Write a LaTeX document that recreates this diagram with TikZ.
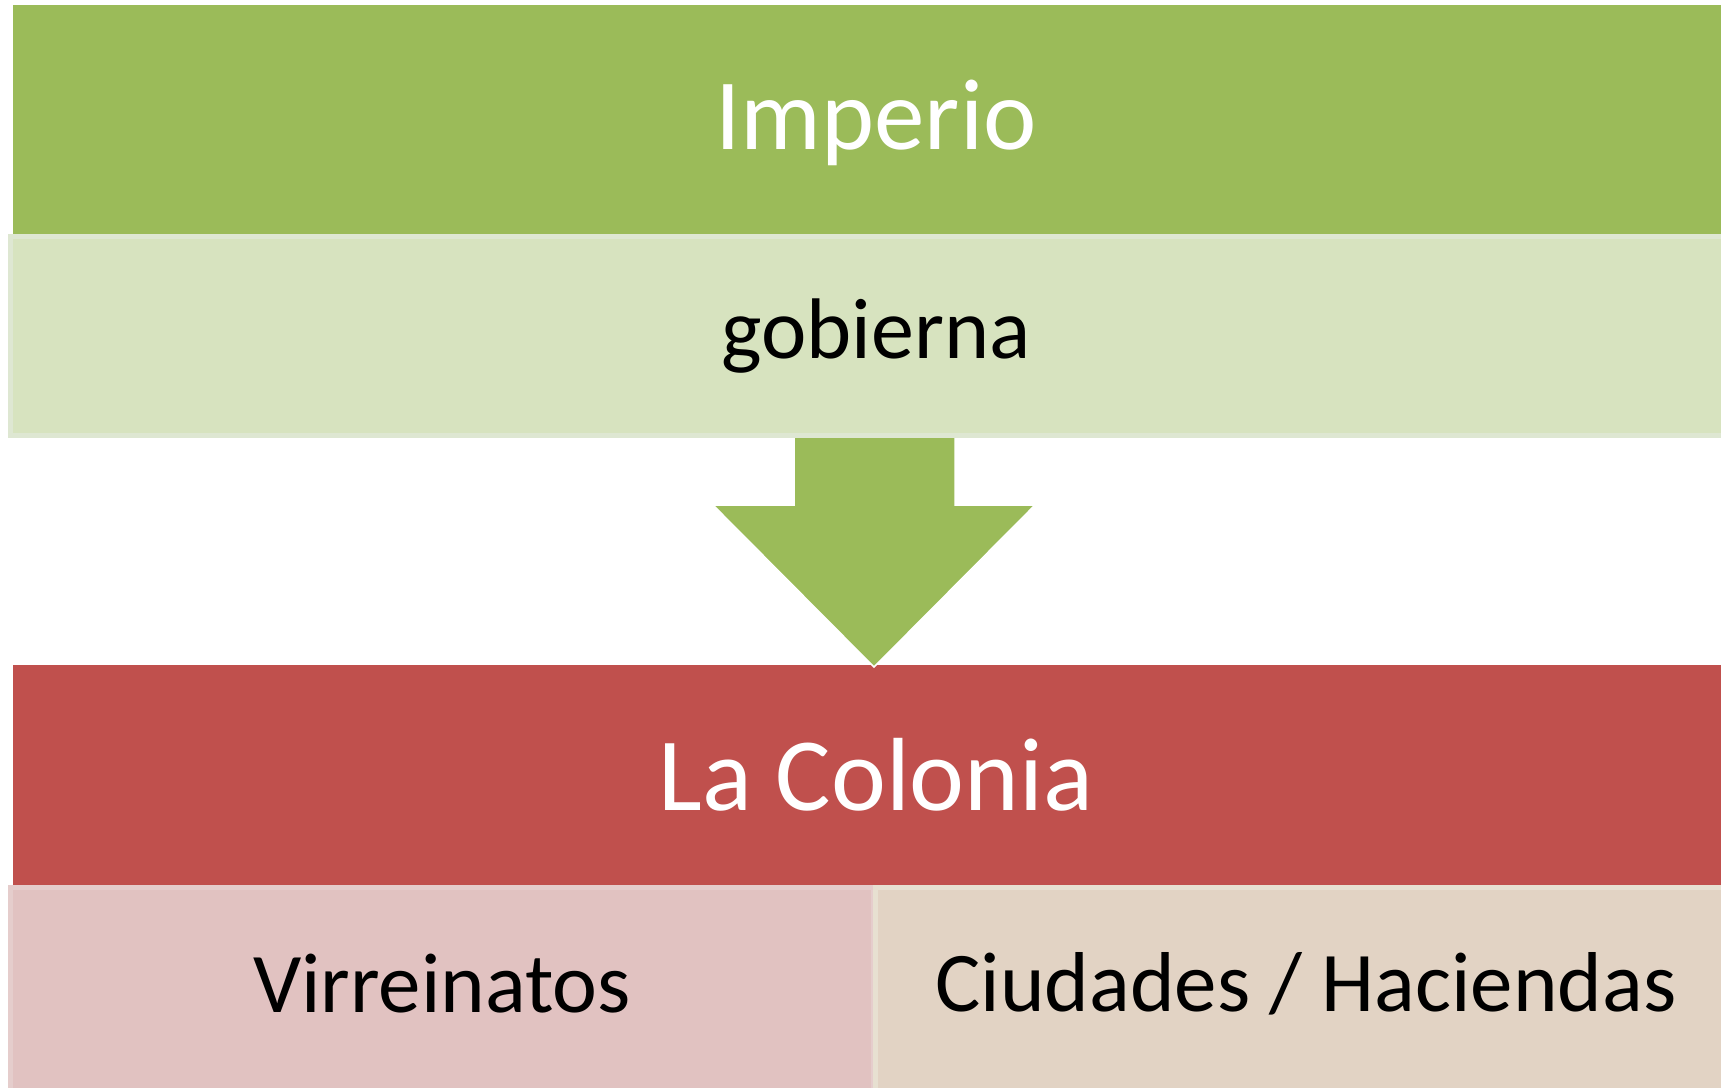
\documentclass[tikz,border=0pt]{standalone}
\usepackage{fontspec}
\setmainfont{Carlito}
\definecolor{gA}{HTML}{9BBB59}
\definecolor{gL}{HTML}{D7E3BF}
\definecolor{gB}{HTML}{DEE7D2}
\definecolor{rA}{HTML}{C0504D}
\definecolor{pL}{HTML}{E1C2C1}
\definecolor{pB}{HTML}{E5CDCC}
\definecolor{bL}{HTML}{E2D3C4}
\definecolor{bB}{HTML}{E7E0D1}
\tikzset{
  box/.style={rectangle, inner sep=0pt, outer sep=0pt, anchor=north west},
  head/.style={box, text=white, font=\fontsize{100}{110}\selectfont},
  sub/.style={box, text=black, line width=5pt},
}
\begin{document}
\begin{tikzpicture}[x=1pt,y=-1pt]
\useasboundingbox (0,0) rectangle (1721,1087);
\clip (0,0) rectangle (1721,1087);
\fill[white] (0,0) rectangle (1721,1087);
% top green
\node[head, fill=gA, minimum width=1726pt, minimum height=229pt] (imp) at (13,5) {};
\node[text=white, font=\fontsize{101}{110}\selectfont] (impt) at (876,123) {Imperio};
% red
\node[head, fill=rA, minimum width=1726pt, minimum height=220pt] (col) at (13,665) {};
\node[text=white, font=\fontsize{104}{114}\selectfont] (colt) at (876,775) {La Colonia};
% arrow
\path[fill=gA, draw=white, line width=1.5pt, line join=miter]
  (794,430) -- (955,430) -- (955,505) -- (1035,505) -- (874,667) -- (713,505) -- (794,505) -- cycle;
\coordinate (tip) at (874,667);
% light green
\node[sub, fill=gL, draw=gB, minimum width=1731pt, minimum height=199pt] (gob) at (10.5,236.5) {};
\node[font=\fontsize{86}{96}\selectfont] (gobt) at (876,336) {gobierna};
% pink and beige
\node[sub, fill=pL, draw=pB, minimum width=863pt, minimum height=210pt] (vir) at (10.5,887.5) {};
\node[font=\fontsize{85}{95}\selectfont] (virt) at (442,984) {Virreinatos};
\node[sub, fill=bL, draw=bB, minimum width=868pt, minimum height=210pt] (ciu) at (875.5,887.5) {};
\node[font=\fontsize{85}{95}\selectfont] (ciut) at (1306,984) {Ciudades / Haciendas};
\end{tikzpicture}
\end{document}
